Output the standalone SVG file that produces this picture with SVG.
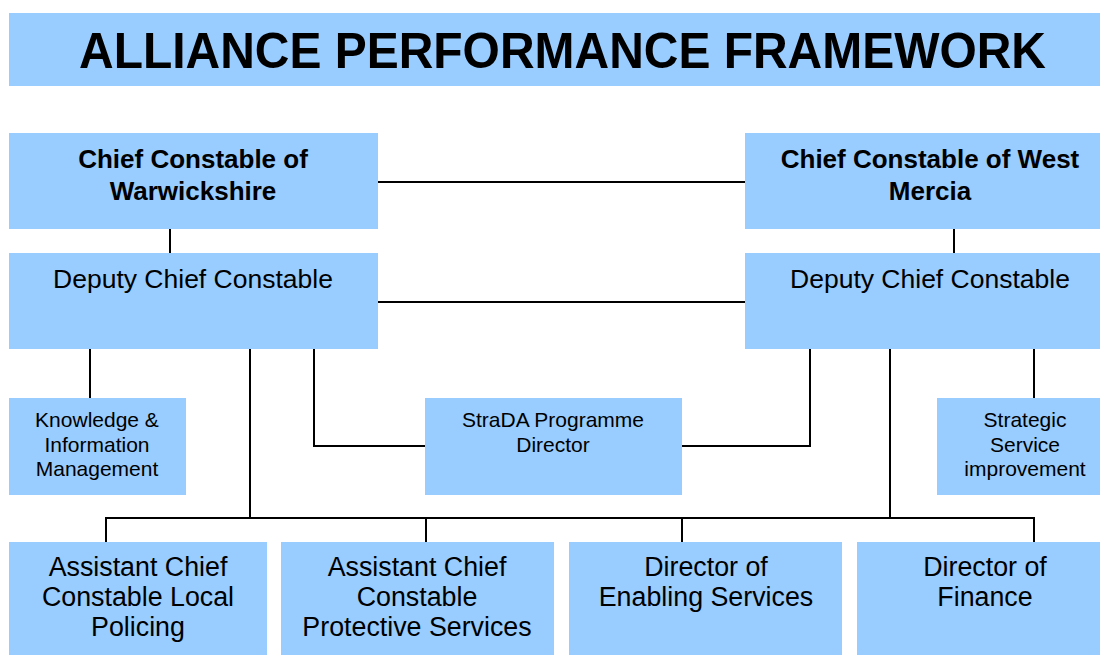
<svg xmlns="http://www.w3.org/2000/svg" width="1100" height="655" viewBox="0 0 1100 655">
<style>
.box{fill:#99CCFF;stroke:none}
.t{font-family:"Liberation Sans",Arial,sans-serif;fill:#000;text-anchor:middle}
.b{font-weight:bold;font-size:26px}
.r{font-size:26.5px}
.s{font-size:21px}
.m{font-size:26.8px}
.ln{stroke:#000;stroke-width:2;fill:none}
</style>
<rect width="1100" height="655" fill="#fff"/>
<g id="title">
<rect class="box" x="9" y="13" width="1091" height="73"/>
<text x="79" y="68" font-family="'Liberation Sans',Arial,sans-serif" font-weight="bold" font-size="50" textLength="967" lengthAdjust="spacingAndGlyphs">ALLIANCE PERFORMANCE FRAMEWORK</text>
</g>
<g id="connectors">
<line class="ln" x1="378" y1="182" x2="745" y2="182"/>
<line class="ln" x1="378" y1="302" x2="745" y2="302"/>
<line class="ln" x1="170" y1="229" x2="170" y2="253"/>
<line class="ln" x1="954" y1="229" x2="954" y2="253"/>
<line class="ln" x1="90" y1="349" x2="90" y2="398"/>
<line class="ln" x1="1034" y1="349" x2="1034" y2="398"/>
<polyline class="ln" points="314,349 314,446 425,446"/>
<polyline class="ln" points="682,446 810,446 810,349"/>
<line class="ln" x1="250" y1="349" x2="250" y2="518"/>
<line class="ln" x1="890" y1="349" x2="890" y2="518"/>
<polyline class="ln" points="106,542 106,518 1034,518 1034,542"/>
<line class="ln" x1="426" y1="518" x2="426" y2="542"/>
<line class="ln" x1="682" y1="518" x2="682" y2="542"/>
</g>
<g id="cc-warwickshire">
<rect class="box" x="9" y="133" width="369" height="96"/>
<text class="t b" x="193" y="168">Chief Constable of</text>
<text class="t b" x="193" y="200">Warwickshire</text>
</g>
<g id="cc-west-mercia">
<rect class="box" x="745" y="133" width="355" height="96"/>
<text class="t b" x="930" y="168">Chief Constable of West</text>
<text class="t b" x="930" y="200">Mercia</text>
</g>
<g id="dcc-warwickshire">
<rect class="box" x="9" y="253" width="369" height="96"/>
<text class="t r" x="193" y="288">Deputy Chief Constable</text>
</g>
<g id="dcc-west-mercia">
<rect class="box" x="745" y="253" width="355" height="96"/>
<text class="t r" x="930" y="288">Deputy Chief Constable</text>
</g>
<g id="knowledge">
<rect class="box" x="9" y="398" width="177" height="97"/>
<text class="t s" x="97" y="427">Knowledge &amp;</text>
<text class="t s" x="97" y="452">Information</text>
<text class="t s" x="97" y="476">Management</text>
</g>
<g id="strada">
<rect class="box" x="425" y="398" width="257" height="97"/>
<text class="t s" x="553" y="427">StraDA Programme</text>
<text class="t s" x="553" y="452">Director</text>
</g>
<g id="strategic">
<rect class="box" x="937" y="398" width="163" height="97"/>
<text class="t s" x="1025" y="427">Strategic</text>
<text class="t s" x="1025" y="452">Service</text>
<text class="t s" x="1025" y="476">improvement</text>
</g>
<g id="acc-local">
<rect class="box" x="9" y="542" width="258" height="113"/>
<text class="t m" x="138" y="576">Assistant Chief</text>
<text class="t m" x="138" y="606">Constable Local</text>
<text class="t m" x="138" y="636">Policing</text>
</g>
<g id="acc-protective">
<rect class="box" x="281" y="542" width="273" height="113"/>
<text class="t m" x="417" y="576">Assistant Chief</text>
<text class="t m" x="417" y="606">Constable</text>
<text class="t m" x="417" y="636">Protective Services</text>
</g>
<g id="dir-enabling">
<rect class="box" x="569" y="542" width="273" height="113"/>
<text class="t m" x="706" y="576">Director of</text>
<text class="t m" x="706" y="606">Enabling Services</text>
</g>
<g id="dir-finance">
<rect class="box" x="857" y="542" width="243" height="113"/>
<text class="t m" x="985" y="576">Director of</text>
<text class="t m" x="985" y="606">Finance</text>
</g>
</svg>
